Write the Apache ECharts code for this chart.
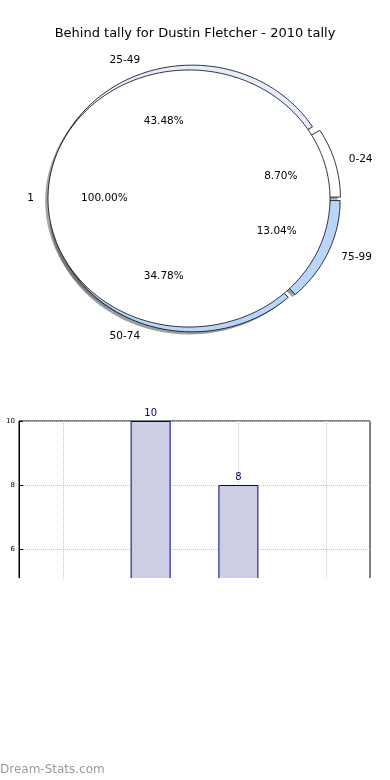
<!DOCTYPE html>
<html>
<head>
<meta charset="utf-8">
<script src="https://cdn.jsdelivr.net/npm/echarts@6/dist/echarts.min.js"></script>
<style>
html,body{margin:0;padding:0;background:#fff;}
#c{width:390px;height:780px;}
</style>
</head>
<body>
<div id="c"></div>
<script>
// ---- data ----
const titleText = 'Behind tally for Dustin Fletcher - 2010 tally';
const innerLabels = ['1'];
const innerValues = [23];
const outerLabels = ['0-24', '25-49', '50-74', '75-99'];
const outerValues = [2, 10, 8, 3];
const barCategories = ['0-24', '25-49', '50-74', '75-99'];
const barValues = [2, 10, 8, 3];
const yTicks = [0, 2, 4, 6, 8, 10];

// ---- layout / style constants ----
const PCX = 189, PCY = 198.5, RX = 141, RY = 128.5, EXT = 1.3;
const OUTER_DX = 0.035, EXPLODE = 0.04, SH = 0.02;
const outerColors = ['#ffffff', '#e5ecfb', '#b9d5f9', '#b9d5f9'];
const innerColors = ['#ffffff'];
const FONT = 'DejaVu Sans';

function sum(a){return a.reduce((s,v)=>s+v,0);}
function slices(values, dx, explode){
  const t = sum(values); let c = 0;
  return values.map(v => {
    const a0 = c / t * 360; c += v; const a1 = c / t * 360;
    const mid = (a0 + a1) / 2 * Math.PI / 180;
    return {a0, a1, mid, pct: v / t * 100,
      cx: dx + explode * Math.cos(mid), cy: explode * Math.sin(mid)};
  });
}
const outerS = slices(outerValues, OUTER_DX, EXPLODE);
const innerS = slices(innerValues, 0, 0);

function wedgePts(api, cx, cy, r, a0, a1){
  const pts = [];
  const full = (a1 - a0) >= 359.99;
  if (!full) pts.push(api.coord([cx, cy]));
  const n = Math.max(8, Math.ceil(a1 - a0));
  for (let i = 0; i <= n; i++) {
    const a = (a0 + (a1 - a0) * i / n) * Math.PI / 180;
    pts.push(api.coord([cx + r * Math.cos(a), cy + r * Math.sin(a)]));
  }
  return pts;
}
function darker(hex){
  const n = parseInt(hex.slice(1), 16);
  const r = Math.round(((n >> 16) & 255) * 0.3), g = Math.round(((n >> 8) & 255) * 0.3), b = Math.round((n & 255) * 0.3);
  return 'rgb(' + r + ',' + g + ',' + b + ')';
}

const allWedges = outerS.map((s, i) => ({s, color: outerColors[i]})).concat(innerS.map((s, i) => ({s, color: innerColors[i]})));

const labelItems = [];
outerS.forEach((s, i) => {
  labelItems.push({text: outerLabels[i], x: s.cx + 1.1 * Math.cos(s.mid), y: s.cy + 1.1 * Math.sin(s.mid), side: true});
  labelItems.push({text: s.pct.toFixed(2) + '%', x: s.cx + 0.6 * Math.cos(s.mid), y: s.cy + 0.6 * Math.sin(s.mid), side: false});
});
innerS.forEach((s, i) => {
  labelItems.push({text: innerLabels[i], x: s.cx + 1.1 * Math.cos(s.mid), y: s.cy + 1.1 * Math.sin(s.mid), side: true});
  labelItems.push({text: s.pct.toFixed(2) + '%', x: s.cx + 0.6 * Math.cos(s.mid), y: s.cy + 0.6 * Math.sin(s.mid), side: false});
});

const chart = echarts.init(document.getElementById('c'), null, {renderer: 'canvas'});
const option = {
  animation: false,
  backgroundColor: '#ffffff',
  title: {text: titleText, left: 'center', top: 22, textStyle: {fontFamily: FONT, fontSize: 13, fontWeight: 'normal', color: '#000'}},
  grid: [
    {left: PCX - EXT * RX, width: 2 * EXT * RX, top: PCY - EXT * RY, height: 2 * EXT * RY, show: false, outerBoundsMode: 'none', containLabel: false},
    {left: 19, width: 351, top: 421, height: 320, show: true, borderColor: '#000', borderWidth: 1, backgroundColor: 'transparent', outerBoundsMode: 'none', containLabel: false}
  ],
  xAxis: [
    {gridIndex: 0, type: 'value', min: -EXT, max: EXT, show: false},
    {gridIndex: 1, type: 'category', data: barCategories, boundaryGap: true,
      axisLine: {show: true, lineStyle: {color: '#000'}}, axisTick: {show: false},
      axisLabel: {fontFamily: FONT, fontSize: 7, color: '#000'},
      splitLine: {show: true, alignWithLabel: true, lineStyle: {color: '#c4c4c4', type: 'dotted', width: 1}}}
  ],
  yAxis: [
    {gridIndex: 0, type: 'value', min: -EXT, max: EXT, show: false},
    {gridIndex: 1, type: 'value', min: yTicks[0], max: yTicks[yTicks.length - 1], interval: 2,
      name: 'Number of tallies', nameLocation: 'middle', nameGap: 17, nameMoveOverlap: false,
      nameTextStyle: {fontFamily: FONT, fontSize: 10, color: '#000'},
      axisLine: {show: true, lineStyle: {color: '#000'}},
      axisTick: {show: true, inside: true, length: 4, lineStyle: {color: '#000'}},
      axisLabel: {fontFamily: FONT, fontSize: 7, color: '#000', margin: 4},
      splitLine: {show: true, lineStyle: {color: '#c4c4c4', type: 'dotted', width: 1}}}
  ],
  series: [
    {type: 'custom', xAxisIndex: 0, yAxisIndex: 0, z: 1, silent: true,
      data: allWedges.map((w, i) => [i]),
      renderItem: function(params, api){
        const w = allWedges[params.dataIndex];
        return {type: 'polygon', shape: {points: wedgePts(api, w.s.cx - SH, w.s.cy - SH, 1, w.s.a0, w.s.a1)},
          style: {fill: darker(w.color), opacity: 0.5, stroke: null}};
      }},
    {type: 'custom', xAxisIndex: 0, yAxisIndex: 0, z: 2, silent: true,
      data: outerValues.map((v, i) => [i, v]),
      renderItem: function(params, api){
        const s = outerS[params.dataIndex];
        return {type: 'polygon', shape: {points: wedgePts(api, s.cx, s.cy, 1, s.a0, s.a1)},
          style: {fill: outerColors[params.dataIndex], stroke: '#000', lineWidth: 0.8}};
      }},
    {type: 'custom', xAxisIndex: 0, yAxisIndex: 0, z: 3, silent: true,
      data: innerValues.map((v, i) => [i, v]),
      renderItem: function(params, api){
        const s = innerS[params.dataIndex];
        return {type: 'polygon', shape: {points: wedgePts(api, s.cx, s.cy, 1, s.a0, s.a1)},
          style: {fill: innerColors[params.dataIndex], stroke: '#000', lineWidth: 0.8}};
      }},
    {type: 'custom', xAxisIndex: 0, yAxisIndex: 0, z: 4, silent: true,
      data: labelItems.map((l, i) => [l.x, l.y]),
      renderItem: function(params, api){
        const l = labelItems[params.dataIndex];
        const p = api.coord([l.x, l.y]);
        const al = l.side ? (l.x > 0 ? 'left' : 'right') : 'center';
        return {type: 'text', style: {text: l.text, x: p[0], y: p[1], fill: '#000',
          fontFamily: FONT, fontSize: 10.5, align: al, verticalAlign: 'middle', textAlign: al, textVerticalAlign: 'middle'}};
      }},
    {type: 'bar', xAxisIndex: 1, yAxisIndex: 1, data: barValues, barWidth: 40, z: 2,
      itemStyle: {color: '#cdcde6', borderColor: '#00008b', borderWidth: 1},
      label: {show: true, position: 'top', distance: 3, color: '#000080', fontFamily: FONT, fontSize: 10}}
  ],
  graphic: [
    {type: 'rect', left: 0, top: 578, z: 100, shape: {width: 390, height: 202}, style: {fill: '#ffffff'}},
    {type: 'text', left: 0, top: 764, z: 101, style: {text: 'Dream-Stats.com', fill: '#9a9a9a', fontFamily: FONT, fontSize: 12, fontWeight: 'normal'}}
  ]
};
chart.setOption(option);
</script>
</body>
</html>
